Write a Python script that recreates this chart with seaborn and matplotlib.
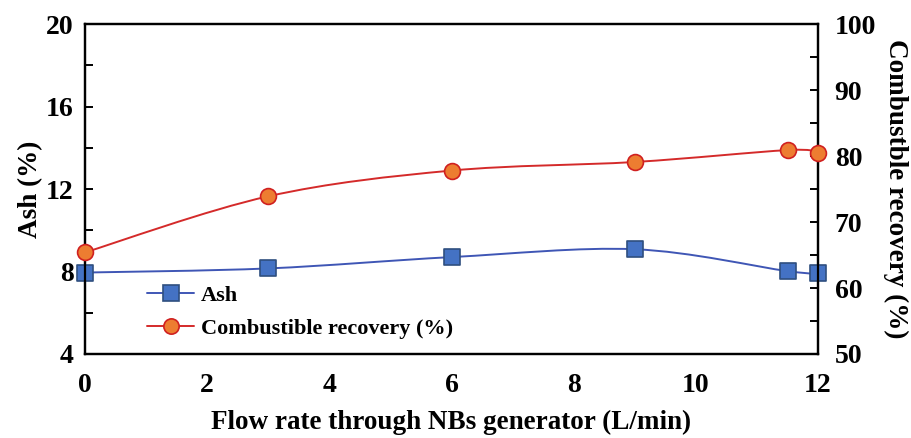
import numpy as np
import pandas as pd
import matplotlib
matplotlib.use("Agg")
import matplotlib.pyplot as plt
import seaborn as sns
from matplotlib.path import Path
from matplotlib.patches import PathPatch
from matplotlib.lines import Line2D
from matplotlib.ticker import MultipleLocator

flow_rate = [0, 3, 6, 9, 11.5, 12]
ash = [7.95, 8.15, 8.7, 9.08, 8.02, 7.92]
combustible = [65.4, 73.9, 77.8, 79.1, 80.9, 80.5]

sns.set_theme(style="white")
plt.rcParams['font.family'] = ['Liberation Serif', 'DejaVu Serif']
plt.rcParams['font.weight'] = 'bold'
plt.rcParams['text.color'] = 'black'

BLUE_LINE = "#3F56B5"
BLUE_FILL = "#4472C4"
BLUE_EDGE = "#2F4F7F"
RED_LINE = "#D42A2A"
ORANGE_FILL = "#ED7D31"
RED_EDGE = "#D02020"


def smooth_path(xs, ys):
    """Excel-like smoothed line (Catmull-Rom Bezier) through the data points."""
    pts = np.column_stack([xs, ys]).astype(float)
    n = len(pts)
    verts = [pts[0]]
    codes = [Path.MOVETO]
    for i in range(n - 1):
        p0 = pts[i - 1] if i > 0 else pts[i]
        p1 = pts[i]
        p2 = pts[i + 1]
        p3 = pts[i + 2] if i + 2 < n else pts[i + 1]
        c1 = p1 + (p2 - p0) / 6.0
        c2 = p2 - (p3 - p1) / 6.0
        verts += [c1, c2, p2]
        codes += [Path.CURVE4] * 3
    return Path(verts, codes)


fig = plt.figure(figsize=(9.11, 4.38), dpi=100)
ax = fig.add_axes([0.0933, 0.1918, 0.8047, 0.7532])
ax2 = ax.twinx()

df = pd.DataFrame({"flow": flow_rate, "ash": ash, "comb": combustible})

ax.add_patch(PathPatch(smooth_path(flow_rate, ash), facecolor='none',
                       edgecolor=BLUE_LINE, lw=1.4, zorder=2))
sns.scatterplot(data=df, x="flow", y="ash", ax=ax, marker='s', s=120,
                color=BLUE_FILL, edgecolor=BLUE_EDGE, linewidth=1.2, zorder=3,
                clip_on=False)

ax2.add_patch(PathPatch(smooth_path(flow_rate, combustible), facecolor='none',
                        edgecolor=RED_LINE, lw=1.4, zorder=2))
sns.scatterplot(data=df, x="flow", y="comb", ax=ax2, marker='o', s=130,
                color=ORANGE_FILL, edgecolor=RED_EDGE, linewidth=1.2, zorder=3,
                clip_on=False)

ax.set_xlim(0, 12)
ax.set_ylim(4, 20)
ax2.set_ylim(50, 100)

ax.xaxis.set_major_locator(MultipleLocator(2))
ax.xaxis.set_minor_locator(MultipleLocator(1))
ax.yaxis.set_major_locator(MultipleLocator(4))
ax.yaxis.set_minor_locator(MultipleLocator(2))
ax2.yaxis.set_major_locator(MultipleLocator(10))
ax2.yaxis.set_minor_locator(MultipleLocator(5))

for a in (ax, ax2):
    for s in a.spines.values():
        s.set_color('black')
        s.set_linewidth(1.6)
        s.set_visible(True)

ax.tick_params(axis='both', which='both', direction='in', colors='black',
               labelsize=20, width=1.4, length=6)
ax.tick_params(axis='x', which='both', top=False, pad=14)
ax.tick_params(axis='y', which='both', right=False, pad=8)
ax2.tick_params(axis='y', which='both', direction='in', colors='black',
                labelsize=20, width=1.4, length=6, pad=12, left=False)

for lab in ax.get_xticklabels() + ax.get_yticklabels() + ax2.get_yticklabels():
    lab.set_fontweight('bold')

ax.set_xlabel("Flow rate through NBs generator (L/min)", fontsize=19.5,
              fontweight='bold', color='black', labelpad=8)
ax.set_ylabel("Ash (%)", fontsize=19.5, fontweight='bold', color='black', labelpad=2)
ax2.set_ylabel("Combustble recovery (%)", fontsize=19.5, fontweight='bold',
               color='black', rotation=270, labelpad=23)

handles = [
    Line2D([], [], color=BLUE_LINE, lw=1.4, marker='s', markersize=11,
           markerfacecolor=BLUE_FILL, markeredgecolor=BLUE_EDGE, markeredgewidth=1.2),
    Line2D([], [], color=RED_LINE, lw=1.4, marker='o', markersize=11,
           markerfacecolor=ORANGE_FILL, markeredgecolor=RED_EDGE, markeredgewidth=1.2),
]
leg = fig.legend(handles, ["Ash", "Combustible recovery (%)"], loc='upper left',
                 bbox_to_anchor=(0.152, 0.368), frameon=False,
                 prop={'family': 'Liberation Serif', 'weight': 'bold', 'size': 16},
                 handlelength=2.1, handletextpad=0.3, labelspacing=0.55,
                 borderaxespad=0)
for t in leg.get_texts():
    t.set_color('black')

fig.savefig("out.png", dpi=100)
